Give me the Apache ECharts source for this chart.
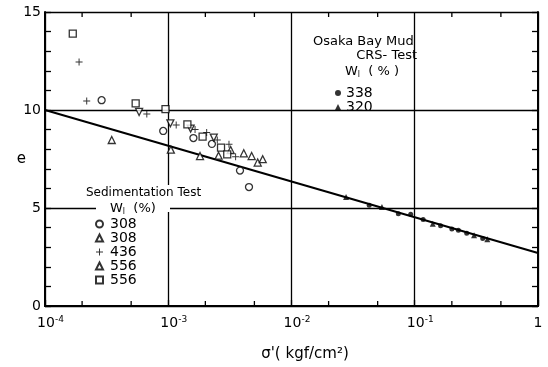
<!DOCTYPE html>
<html><head><meta charset="utf-8">
<script src="https://cdn.jsdelivr.net/npm/echarts@6/dist/echarts.min.js"></script>
<style>html,body{margin:0;padding:0;background:#fff}#c{width:548px;height:367px}</style>
</head><body><div id="c"></div>
<script>
const FONT = '"DejaVu Sans", sans-serif';

// Sedimentation test (wL %)
const sed308CircleX = [2.88e-4, 9.1e-4, 1.6e-3, 2.26e-3, 3.82e-3, 4.52e-3];
const sed308CircleY = [10.5, 8.93, 8.57, 8.27, 6.91, 6.07];
const sed308TriX = [3.48e-4, 1.05e-3, 1.81e-3, 2.56e-3, 3.21e-3, 4.1e-3, 4.75e-3, 5.32e-3, 5.84e-3];
const sed308TriY = [8.47, 7.98, 7.65, 7.67, 7.96, 7.79, 7.65, 7.32, 7.49];
const sed436PlusX = [1.89e-4, 2.18e-4, 6.7e-4, 1.16e-3, 1.65e-3, 2.05e-3, 2.5e-3, 3.11e-3, 3.52e-3];
const sed436PlusY = [12.45, 10.46, 9.8, 9.23, 9.0, 8.85, 8.47, 8.25, 7.62];
const sed556DownX = [5.8e-4, 1.04e-3, 1.52e-3, 2.34e-3];
const sed556DownY = [9.9, 9.32, 9.05, 8.59];
const sed556SquareX = [1.68e-4, 5.44e-4, 9.5e-4, 1.43e-3, 1.9e-3, 2.68e-3, 3.01e-3];
const sed556SquareY = [13.9, 10.34, 10.04, 9.27, 8.64, 8.08, 7.74];

// Osaka Bay Mud CRS test
const crs338X = [4.27e-2, 7.36e-2, 9.27e-2, 0.117, 0.162, 0.2, 0.226, 0.264, 0.356];
const crs338Y = [5.14, 4.71, 4.68, 4.41, 4.1, 3.93, 3.86, 3.71, 3.44];
const crs320X = [2.77e-2, 5.42e-2, 0.14, 0.303, 0.388];
const crs320Y = [5.56, 5.05, 4.2, 3.61, 3.4];

// fitted line
const fitX = [1e-4, 1];
const fitY = [10.0, 2.7];

// axes
const xMin = 1e-4, xMax = 1;
const yTicks = [0, 5, 10, 15];
const xMinorTickValues = [2e-4, 5e-4, 2e-3, 5e-3, 2e-2, 5e-2, 0.2, 0.5];

const legendLabels = {
  s308o: '308', s308t: '308', s436: '436', s556v: '556', s556s: '556',
  c338: '338', c320: '320'
};

const zip = (xs, ys) => xs.map((x, i) => [x, ys[i]]);
const hollow = { color: '#fff', borderColor: '#000', borderWidth: 1.3 };
const plusPath = 'path://M4.3,0H5.7V4.3H10V5.7H5.7V10H4.3V5.7H0V4.3H4.3Z';
const blackLine = { color: '#000', width: 2 };
const yMin = yTicks[0], yMax = yTicks[yTicks.length - 1];

const chart = echarts.init(document.getElementById('c'));

const baseGraphic = [
  { id: 'mask', type: 'rect', z: 100, shape: { x: 96, y: 185, width: 74, height: 27 }, style: { fill: '#fff' } },
  { id: 't1', type: 'text', z: 101, x: 313, y: 42, style: { text: 'Osaka Bay Mud', font: '13px ' + FONT, fill: '#000', textVerticalAlign: 'middle' } },
  { id: 't2', type: 'text', z: 101, x: 417, y: 56, style: { text: 'CRS- Test', font: '13px ' + FONT, fill: '#000', textAlign: 'right', textVerticalAlign: 'middle' } },
  { id: 't3', type: 'text', z: 101, x: 345, y: 72, style: {
      text: '{a|W}{b|l}{a|  ( % )}', textVerticalAlign: 'middle',
      rich: { a: { font: '13px ' + FONT, fill: '#000' }, b: { font: '8px ' + FONT, fill: '#000', verticalAlign: 'bottom' } } } },
  { id: 't4', type: 'text', z: 101, x: 86, y: 193, style: { text: 'Sedimentation Test', font: '12px ' + FONT, fill: '#000', textVerticalAlign: 'middle' } },
  { id: 't5', type: 'text', z: 101, x: 110, y: 209, style: {
      text: '{a|W}{b|l}{a|  (%)}', textVerticalAlign: 'middle',
      rich: { a: { font: '13px ' + FONT, fill: '#000' }, b: { font: '8px ' + FONT, fill: '#000', verticalAlign: 'bottom' } } } }
];

chart.setOption({
  animation: false,
  grid: { left: 45, right: 10, top: 12, bottom: 60 },
  xAxis: [
    {
      type: 'log', min: xMin, max: xMax, logBase: 10,
      name: "σ'( kgf/cm²)", nameLocation: 'middle', nameGap: 41,
      nameTextStyle: { fontSize: 15, color: '#000', fontFamily: FONT, padding: [0, 0, 0, 27] },
      axisLine: { lineStyle: blackLine },
      axisTick: { show: true, inside: true, length: 6, lineStyle: { color: '#000', width: 1.3 } },
      minorTick: { show: false },
      splitLine: { show: true, lineStyle: { color: '#000', width: 1.3 } },
      axisLabel: {
        color: '#000', margin: 9, fontFamily: FONT,
        formatter: v => {
          const p = Math.round(Math.log10(v));
          return p === 0 ? '{n|1}' : '{g| }{n|10}{s|' + p + '}';
        },
        rich: {
          g: { width: 11, fontSize: 14 },
          n: { fontSize: 14, fontFamily: FONT, color: '#000', lineHeight: 16 },
          s: { fontSize: 9, fontFamily: FONT, color: '#000', verticalAlign: 'top' }
        }
      }
    },
    {
      type: 'log', min: xMin, max: xMax, logBase: 10, position: 'top',
      axisLine: { show: true, lineStyle: blackLine },
      axisTick: { show: false }, axisLabel: { show: false }, splitLine: { show: false }
    }
  ],
  yAxis: [
    {
      type: 'value', min: yMin, max: yMax, interval: 5,
      name: 'e', nameLocation: 'middle', nameGap: 19, nameRotate: 0, nameMoveOverlap: false,
      nameTextStyle: { fontSize: 15, color: '#000', fontFamily: FONT },
      axisLine: { show: true, lineStyle: blackLine },
      axisTick: { show: true, inside: true, length: 6, lineStyle: { color: '#000', width: 1.3 } },
      minorTick: { show: true, splitNumber: 5, length: 6, lineStyle: { color: '#000', width: 1.3 } },
      splitLine: { show: true, lineStyle: { color: '#000', width: 1.3 } },
      axisLabel: { color: '#000', fontSize: 14, margin: 4, fontFamily: FONT }
    },
    {
      type: 'value', min: yMin, max: yMax, interval: 5, position: 'right',
      axisLine: { show: true, lineStyle: blackLine },
      axisTick: { show: true, inside: true, length: 6, lineStyle: { color: '#000', width: 1.3 } },
      minorTick: { show: true, splitNumber: 5, length: 6, lineStyle: { color: '#000', width: 1.3 } },
      splitLine: { show: false }, axisLabel: { show: false }
    }
  ],
  legend: [
    {
      data: ['c338', 'c320'], orient: 'vertical', left: 330, top: 81,
      itemGap: 0, itemWidth: 6, itemHeight: 6, selectedMode: false,
      formatter: n => legendLabels[n],
      textStyle: { fontSize: 14, lineHeight: 13, color: '#000', fontFamily: FONT }
    },
    {
      data: ['s308o', 's308t', 's436', 's556v', 's556s'], orient: 'vertical', left: 90, top: 212,
      itemGap: 0, itemWidth: 7, itemHeight: 7, selectedMode: false,
      formatter: n => legendLabels[n],
      textStyle: { fontSize: 14, lineHeight: 14, color: '#000', fontFamily: FONT, padding: [0, 0, 0, 2] }
    }
  ],
  graphic: baseGraphic,
  series: [
    { type: 'line', name: 'fit', data: zip(fitX, fitY), showSymbol: false, symbol: 'none', silent: true,
      lineStyle: { color: '#000', width: 2 }, z: 1 },
    { type: 'scatter', name: 's308o', data: zip(sed308CircleX, sed308CircleY), symbol: 'circle', symbolSize: 7, itemStyle: hollow },
    { type: 'scatter', name: 's308t', data: zip(sed308TriX, sed308TriY), symbol: 'triangle', symbolSize: 7, itemStyle: hollow },
    { type: 'scatter', name: 's436', data: zip(sed436PlusX, sed436PlusY), symbol: plusPath, symbolSize: 7, itemStyle: { color: '#000' } },
    { type: 'scatter', name: 's556v', data: zip(sed556DownX, sed556DownY), symbol: 'triangle', symbolRotate: 180, symbolSize: 7, itemStyle: hollow },
    { type: 'scatter', name: 's556s', data: zip(sed556SquareX, sed556SquareY), symbol: 'rect', symbolSize: 7, itemStyle: hollow },
    { type: 'scatter', name: 'c338', data: zip(crs338X, crs338Y), symbol: 'circle', symbolSize: 5, itemStyle: { color: '#000' } },
    { type: 'scatter', name: 'c320', data: zip(crs320X, crs320Y), symbol: 'triangle', symbolSize: 6, itemStyle: { color: '#000' } }
  ]
});

// minor x ticks (2 and 5 of each decade) inside the bottom and top frame,
// positioned through the chart's own log x-axis
const yBottom = chart.convertToPixel({ yAxisIndex: 0 }, yMin);
const yTop = chart.convertToPixel({ yAxisIndex: 0 }, yMax);
const tickGraphic = [];
xMinorTickValues.forEach((v, i) => {
  const px = chart.convertToPixel({ xAxisIndex: 0 }, v);
  tickGraphic.push({ id: 'tb' + i, type: 'line', z: 90, shape: { x1: px, y1: yBottom, x2: px, y2: yBottom - 5 }, style: { stroke: '#000', lineWidth: 1.3 } });
  tickGraphic.push({ id: 'tt' + i, type: 'line', z: 90, shape: { x1: px, y1: yTop, x2: px, y2: yTop + 5 }, style: { stroke: '#000', lineWidth: 1.3 } });
});
chart.setOption({ graphic: baseGraphic.concat(tickGraphic) });
</script></body></html>
